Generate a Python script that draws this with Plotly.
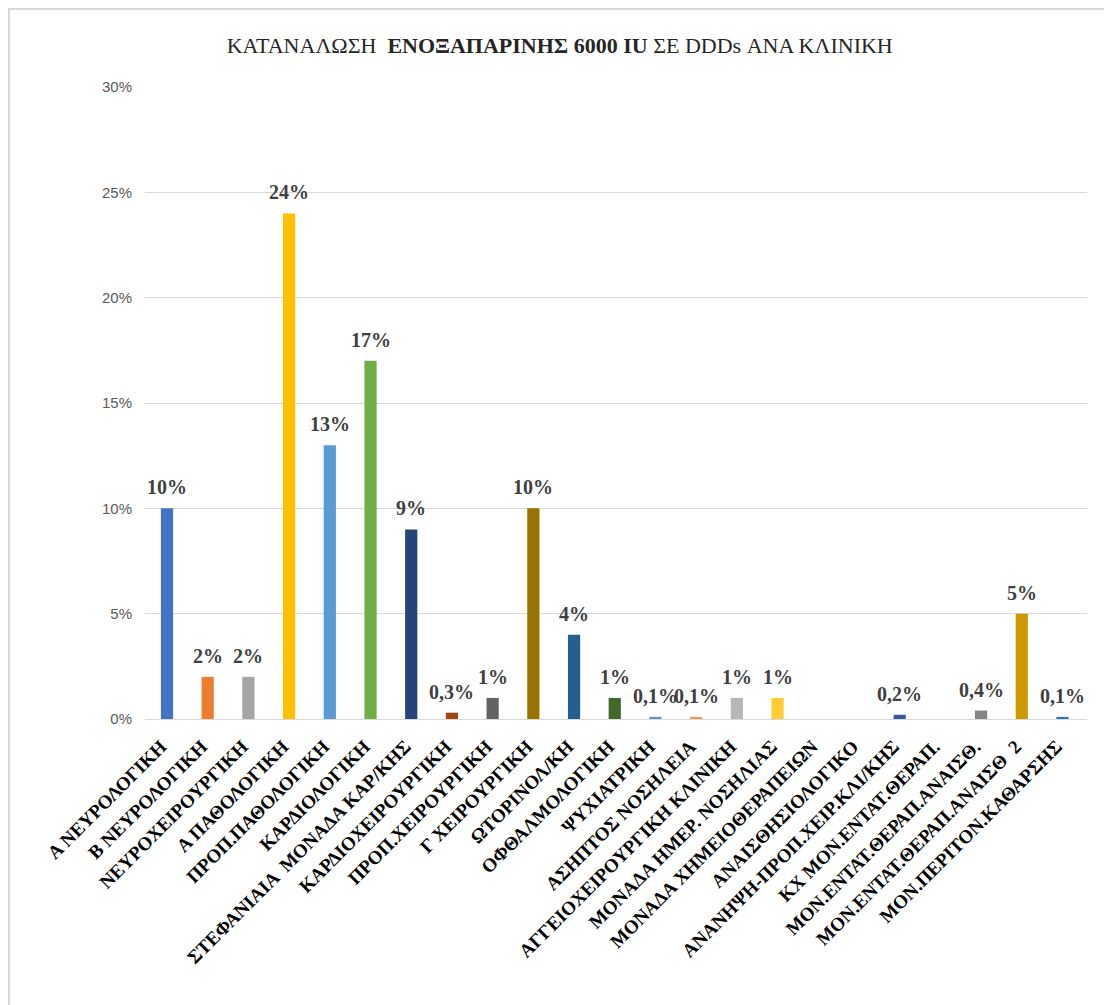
import plotly.graph_objects as go

categories = [
    "Α ΝΕΥΡΟΛΟΓΙΚΗ", "Β ΝΕΥΡΟΛΟΓΙΚΗ", "ΝΕΥΡΟΧΕΙΡΟΥΡΓΙΚΗ", "Α ΠΑΘΟΛΟΓΙΚΗ",
    "ΠΡΟΠ.ΠΑΘΟΛΟΓΙΚΗ", "ΚΑΡΔΙΟΛΟΓΙΚΗ", "ΣΤΕΦΑΝΙΑΙΑ  ΜΟΝΑΔΑ ΚΑΡ/ΚΗΣ",
    "ΚΑΡΔΙΟΧΕΙΡΟΥΡΓΙΚΗ", "ΠΡΟΠ.ΧΕΙΡΟΥΡΓΙΚΗ", "Γ ΧΕΙΡΟΥΡΓΙΚΗ", "ΩΤΟΡΙΝΟΛ/ΚΗ",
    "ΟΦΘΑΛΜΟΛΟΓΙΚΗ", "ΨΥΧΙΑΤΡΙΚΗ", "ΑΣΗΠΤΟΣ ΝΟΣΗΛΕΙΑ",
    "ΑΓΓΕΙΟΧΕΙΡΟΥΡΓΙΚΗ ΚΛΙΝΙΚΗ", "ΜΟΝΑΔΑ ΗΜΕΡ. ΝΟΣΗΛΙΑΣ",
    "ΜΟΝΑΔΑ ΧΗΜΕΙΟΘΕΡΑΠΕΙΩΝ", "ΑΝΑΙΣΘΗΣΙΟΛΟΓΙΚΟ",
    "ΑΝΑΝΗΨΗ-ΠΡΟΠ.ΧΕΙΡ.ΚΛΙ/ΚΗΣ", "ΚΧ ΜΟΝ.ΕΝΤΑΤ.ΘΕΡΑΠ.",
    "ΜΟΝ.ΕΝΤΑΤ.ΘΕΡΑΠ.ΑΝΑΙΣΘ.", "ΜΟΝ.ΕΝΤΑΤ.ΘΕΡΑΠ.ΑΝΑΙΣΘ  2",
    "ΜΟΝ.ΠΕΡΙΤΟΝ.ΚΑΘΑΡΣΗΣ",
]
values = [0.10, 0.02, 0.02, 0.24, 0.13, 0.17, 0.09, 0.003, 0.01, 0.10, 0.04,
          0.01, 0.001, 0.001, 0.01, 0.01, None, None, 0.002, None, 0.004,
          0.05, 0.001]
value_labels = ["10%", "2%", "2%", "24%", "13%", "17%", "9%", "0,3%", "1%",
                "10%", "4%", "1%", "0,1%", "0,1%", "1%", "1%", "", "", "0,2%",
                "", "0,4%", "5%", "0,1%"]
colors = ["#4472C4", "#ED7D31", "#A5A5A5", "#FFC000", "#5B9BD5", "#70AD47",
          "#264478", "#9E480E", "#636363", "#997300", "#255E91", "#43682B",
          "#698ED0", "#F1975A", "#B7B7B7", "#FFCD33", "#7CAFDD", "#8CC168",
          "#335AA1", "#C55A11", "#848484", "#CC9A00", "#2E75B6"]
y_ticks = [0, 0.05, 0.10, 0.15, 0.20, 0.25, 0.30]
y_tick_labels = ["0%", "5%", "10%", "15%", "20%", "25%", "30%"]

SERIF = "Liberation Serif, Times New Roman, DejaVu Serif, serif"

fig = go.Figure(go.Bar(
    x=categories, y=values, marker=dict(color=colors, line=dict(width=0)),
    cliponaxis=False,
))

for cat, val, lab in zip(categories, values, value_labels):
    if val is None or not lab:
        continue
    fig.add_annotation(
        x=cat, y=val, xref="x", yref="y", text=lab, showarrow=False,
        yanchor="bottom", xanchor="center", yshift=8,
        font=dict(family=SERIF, size=20, color="#404040", weight="bold"),
    )

fig.update_layout(
    width=1104, height=1005,
    margin=dict(l=145, r=17, t=87, b=286),
    paper_bgcolor="white", plot_bgcolor="white",
    bargap=0.7, showlegend=False,
    title=dict(
        text="ΚΑΤΑΝΑΛΩΣΗ  <b>ΕΝΟΞΑΠΑΡΙΝΗΣ 6000 IU</b> ΣΕ DDDs ΑΝΑ ΚΛΙΝΙΚΗ",
        x=0.507, xref="container", xanchor="center",
        y=0.955, yref="container", yanchor="middle",
        font=dict(family=SERIF, size=22, color="#262626"),
    ),
    xaxis=dict(
        tickangle=-45, showgrid=False, showline=True, linecolor="#D9D9D9",
        linewidth=1, ticks="", ticklabelshift=-6, ticklabelstandoff=8,
        tickfont=dict(family=SERIF, size=19, color="#000000", weight="bold"),
    ),
    yaxis=dict(
        range=[0, 0.30], tickvals=y_ticks, ticktext=y_tick_labels,
        showgrid=True, gridcolor="#D9D9D9", gridwidth=1, zeroline=False,
        showline=False, ticks="", ticklen=0, ticklabelstandoff=12,
        tickfont=dict(family="Liberation Sans", size=15, color="#595959"),
    ),
)

fig.add_shape(type="rect", xref="paper", yref="paper",
              x0=-0.1444, x1=1.03, y0=-0.47, y1=1.1234,
              line=dict(color="#D9D9D9", width=2), fillcolor="rgba(0,0,0,0)",
              layer="below")

fig.write_html("out.html")
